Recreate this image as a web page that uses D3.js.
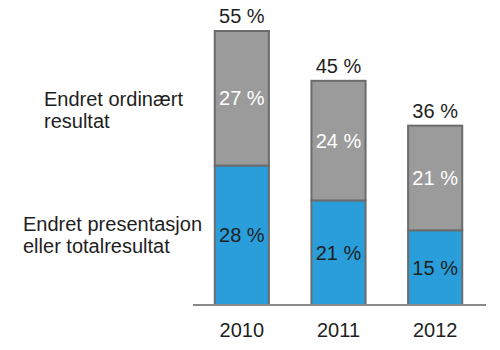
<!DOCTYPE html>
<html>
<head>
<meta charset="utf-8">
<script src="https://cdn.jsdelivr.net/npm/d3@7/dist/d3.min.js"></script>
<style>
  html, body { margin: 0; padding: 0; background: #fff; }
  svg { display: block; font-family: "Liberation Sans", Arial, sans-serif; }
</style>
</head>
<body>
<svg id="chart" width="500" height="350"></svg>
<script>
const years = ["2010", "2011", "2012"];
const presentasjonVals = [28, 21, 15];
const ordinaertVals = [27, 24, 21];
const totals = [55, 45, 36];
const seriesLabels = [["Endret ordinært", "resultat"], ["Endret presentasjon", "eller totalresultat"]];

const svg = d3.select("#chart");
const x = d3.scaleBand().domain(years).range([193.5, 483.5]).paddingInner(0.44).paddingOuter(0.22);
const y = d3.scaleLinear().domain([0, 55]).range([305, 31]);

const stackData = years.map((yr, i) => ({ year: yr, blue: presentasjonVals[i], gray: ordinaertVals[i], total: totals[i] }));
const stack = d3.stack().keys(["blue", "gray"])(stackData);
const fills = { blue: "#2a9edb", gray: "#9b9b9b" };
const labelColors = { blue: "#1e1e1e", gray: "#fff" };

stack.forEach(layer => {
  const g = svg.append("g");
  g.selectAll("rect").data(layer).enter().append("rect")
    .attr("x", d => x(d.data.year))
    .attr("y", d => y(d[1]))
    .attr("width", x.bandwidth())
    .attr("height", d => y(d[0]) - y(d[1]))
    .attr("fill", fills[layer.key])
    .attr("stroke", "#6c6c6c")
    .attr("stroke-width", 2);
  g.selectAll("text").data(layer).enter().append("text")
    .attr("x", d => x(d.data.year) + x.bandwidth() / 2)
    .attr("y", d => (y(d[0]) + y(d[1])) / 2 + 7)
    .attr("text-anchor", "middle")
    .attr("font-size", 20)
    .attr("fill", labelColors[layer.key])
    .text(d => d.data[layer.key] + " %");
});

svg.append("g").selectAll("text").data(stackData).enter().append("text")
  .attr("x", d => x(d.year) + x.bandwidth() / 2)
  .attr("y", d => y(d.total) - 8)
  .attr("text-anchor", "middle")
  .attr("font-size", 20)
  .attr("fill", "#1e1e1e")
  .text(d => d.total + " %");

const axis = svg.append("g").attr("transform", "translate(0,305)")
  .call(d3.axisBottom(x).tickSize(0).tickPadding(18));
axis.select(".domain").attr("d", "M193,0H486").attr("stroke", "#8a8a8a").attr("stroke-width", 2);
axis.selectAll("text").attr("font-size", 20).attr("fill", "#1e1e1e").attr("font-family", "Liberation Sans, Arial, sans-serif");

const legendPos = [{ x: 44, y: 105.5 }, { x: 23, y: 230.5 }];
seriesLabels.forEach((lines, i) => {
  const t = svg.append("text").attr("font-size", 20).attr("fill", "#1e1e1e");
  lines.forEach((ln, j) => {
    t.append("tspan").attr("x", legendPos[i].x).attr("y", legendPos[i].y + j * 22.5).text(ln);
  });
});
</script>
</body>
</html>
